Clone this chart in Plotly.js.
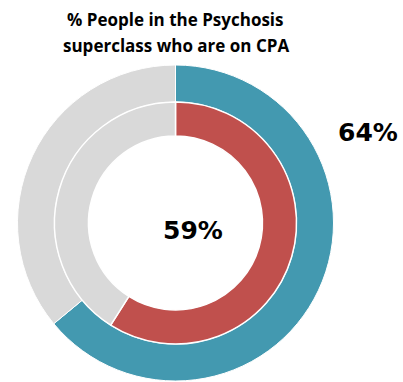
<!DOCTYPE html>
<html><head><meta charset="utf-8">
<script src="https://cdn.plot.ly/plotly-3.0.1.min.js"></script>
<style>html,body{margin:0;padding:0;background:#fff}#chart{width:403px;height:382px}</style>
</head><body><div id="chart"></div>
<script>
const outerLabels = ["On CPA", "Not on CPA"];
const outerValues = [64, 36];
const innerLabels = ["On CPA", "Not on CPA"];
const innerValues = [59, 41];
const titleLines = ["% People in the Psychosis", "superclass who are on CPA"];
const outerColors = ["#4399B0", "#D9D9D9"];
const innerColors = ["#C0504D", "#D9D9D9"];
const W = 403, H = 382;
const cx = 175.5, cy = 223;
const rOuter = 158, rMid = 121, rInner = 87;
function dom(r){ return {x:[(cx-r)/W,(cx+r)/W], y:[1-(cy+r)/H, 1-(cy-r)/H]}; }
const traces = [
 {type:"pie", labels:outerLabels, values:outerValues, domain:dom(rOuter), hole:rMid/rOuter,
  sort:false, direction:"clockwise", rotation:0, textinfo:"none", hoverinfo:"label+percent",
  marker:{colors:outerColors, line:{color:"#ffffff", width:1}}, showlegend:false},
 {type:"pie", labels:innerLabels, values:innerValues, domain:dom(rMid), hole:rInner/rMid,
  sort:false, direction:"clockwise", rotation:0, textinfo:"none", hoverinfo:"label+percent",
  marker:{colors:innerColors, line:{color:"#ffffff", width:1.5}}, showlegend:false}
];
const F = "'Open Sans', Lato, sans-serif";
const FN = "'DejaVu Sans', sans-serif";
const titleY = [19.5, 45.5];
const layout = {
 width:W, height:H, margin:{l:0,r:0,t:0,b:0}, paper_bgcolor:"#fff", showlegend:false,
 annotations:[
  ...titleLines.map((t,i)=>({text:"<b>"+t+"</b>", x:cx/W, y:1-titleY[i]/H, xref:"paper", yref:"paper",
   showarrow:false, font:{family:F, size:17, color:"#000"}, xanchor:"center", yanchor:"middle"})),
  {text:"<b>" + innerValues[0] + "%</b>", x:192.5/W, y:1-230/H, xref:"paper", yref:"paper", showarrow:false,
   font:{family:FN, size:25, color:"#000"}, xanchor:"center", yanchor:"middle"},
  {text:"<b>" + outerValues[0] + "%</b>", x:367.5/W, y:1-132.5/H, xref:"paper", yref:"paper", showarrow:false,
   font:{family:FN, size:25, color:"#000"}, xanchor:"center", yanchor:"middle"}
 ]
};
Plotly.newPlot("chart", traces, layout, {displayModeBar:false, staticPlot:true});
</script></body></html>
